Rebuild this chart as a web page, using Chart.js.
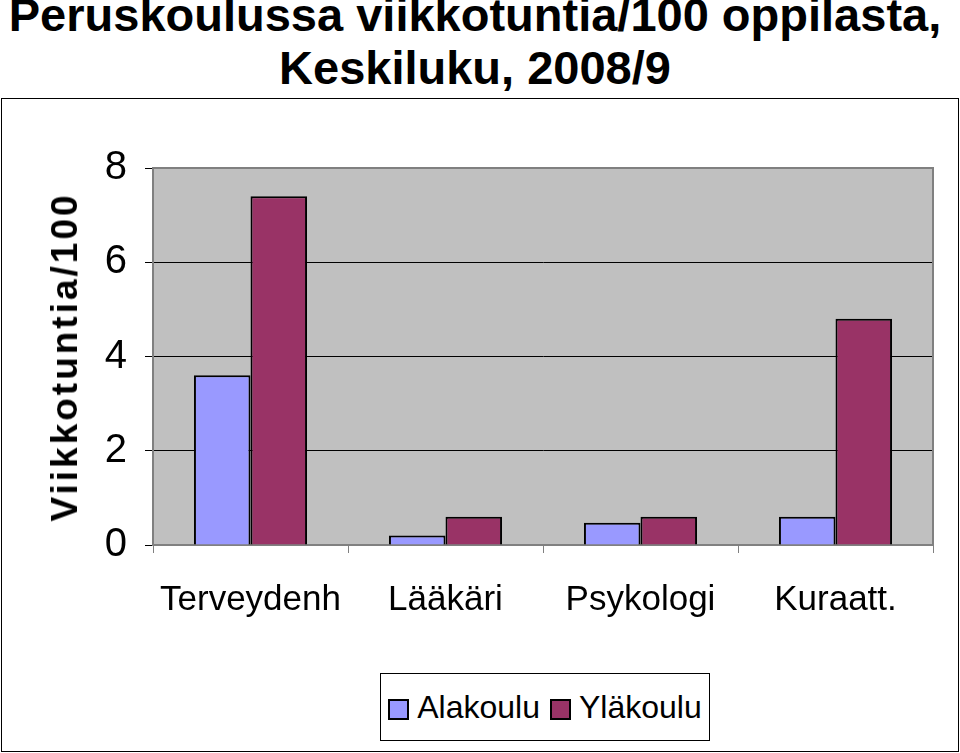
<!DOCTYPE html>
<html>
<head>
<meta charset="utf-8">
<script src="https://cdn.jsdelivr.net/npm/chart.js@4"></script>
<style>
  body { margin: 0; width: 960px; height: 753px; background: #fff; font-family: "Liberation Sans", Arial, sans-serif; position: relative; overflow: hidden; }
  #title { position: absolute; left: 0; top: -12px; width: 950px; text-align: center; font-weight: bold; font-size: 47px; line-height: 53px; z-index: 2; white-space: nowrap; }
  #box { position: absolute; left: 1px; top: 98px; width: 956px; height: 652px; border: 1px solid #000; }
  #wrap { position: absolute; left: 0; top: 98px; width: 960px; height: 655px; }
  #ytitle { position: absolute; left: 65px; top: 357px; transform: translate(-50%, -50%) rotate(-90deg); font-weight: bold; font-size: 37px; letter-spacing: 3px; white-space: nowrap; z-index: 2; }
  #legend { position: absolute; left: 380px; top: 673px; width: 328px; height: 66px; border: 1px solid #000; font-size: 32px; display: flex; align-items: center; justify-content: center; gap: 10px; background: #fff; }
  .sw { display: inline-block; width: 17px; height: 17px; border: 2px solid #000; margin-right: 8px; vertical-align: middle; }
</style>
</head>
<body>
<div id="title">Peruskoulussa viikkotuntia/100 oppilasta,<br>Keskiluku, 2008/9</div>
<div id="box"></div>
<div id="wrap"><canvas id="chart" width="960" height="655"></canvas></div>
<div id="ytitle">Viikkotuntia/100</div>
<div id="legend"></div>
<script>
const categories = ['Terveydenh', 'Lääkäri', 'Psykologi', 'Kuraatt.'];
const alakoulu = [3.6, 0.2, 0.47, 0.6];
const ylakoulu = [7.4, 0.6, 0.6, 4.8];
const yTicks = [0, 2, 4, 6, 8];
const seriesNames = ['Alakoulu', 'Yläkoulu'];
const seriesColors = ['#9999FF', '#993366'];

document.getElementById('legend').innerHTML = seriesNames.map((n, i) =>
    `<span><span class="sw" style="background:${seriesColors[i]}"></span>${n}</span>`).join('');

const plotBg = {
    id: 'plotBg',
    beforeDraw(chart) {
        const { ctx, chartArea: a } = chart;
        ctx.save();
        ctx.fillStyle = '#C0C0C0';
        ctx.fillRect(a.left, a.top, a.right - a.left, a.bottom - a.top);
        ctx.restore();
    },
    afterDatasetsDraw(chart) {
        const { ctx, chartArea: a } = chart;
        ctx.save();
        ctx.strokeStyle = '#808080';
        ctx.lineWidth = 2;
        ctx.beginPath();
        ctx.moveTo(a.left, a.top);
        ctx.lineTo(a.right, a.top);
        ctx.lineTo(a.right, a.bottom);
        ctx.stroke();
        ctx.restore();
    }
};

new Chart(document.getElementById('chart'), {
    type: 'bar',
    data: {
        labels: categories,
        datasets: [
            { label: seriesNames[0], data: alakoulu, backgroundColor: seriesColors[0], borderColor: '#000', borderWidth: 2 },
            { label: seriesNames[1], data: ylakoulu, backgroundColor: seriesColors[1], borderColor: '#000', borderWidth: 2 }
        ]
    },
    options: {
        responsive: false,
        animation: false,
        layout: { padding: { top: 70, right: 27, bottom: 0, left: 0 } },
        plugins: { legend: { display: false }, tooltip: { enabled: false } },
        datasets: { bar: { categoryPercentage: 0.58, barPercentage: 1 } },
        scales: {
            x: {
                grid: { offset: true, drawOnChartArea: false, color: '#808080', tickLength: 8 },
                border: { color: '#808080', width: 2 },
                ticks: { color: '#000', font: { size: 35, family: 'Liberation Sans' }, padding: 26, maxRotation: 0 },
                afterFit(s) { s.height = 208; }
            },
            y: {
                min: 0, max: 8,
                afterBuildTicks(s) { s.ticks = yTicks.map(v => ({ value: v })); },
                grid: { color: '#000', lineWidth: 1, tickLength: 8 },
                border: { color: '#808080', width: 2 },
                ticks: { color: '#000', font: { size: 40, family: 'Liberation Sans' }, padding: 18 },
                afterFit(s) { s.width = 153; }
            }
        }
    },
    plugins: [plotBg]
});
</script>
</body>
</html>
